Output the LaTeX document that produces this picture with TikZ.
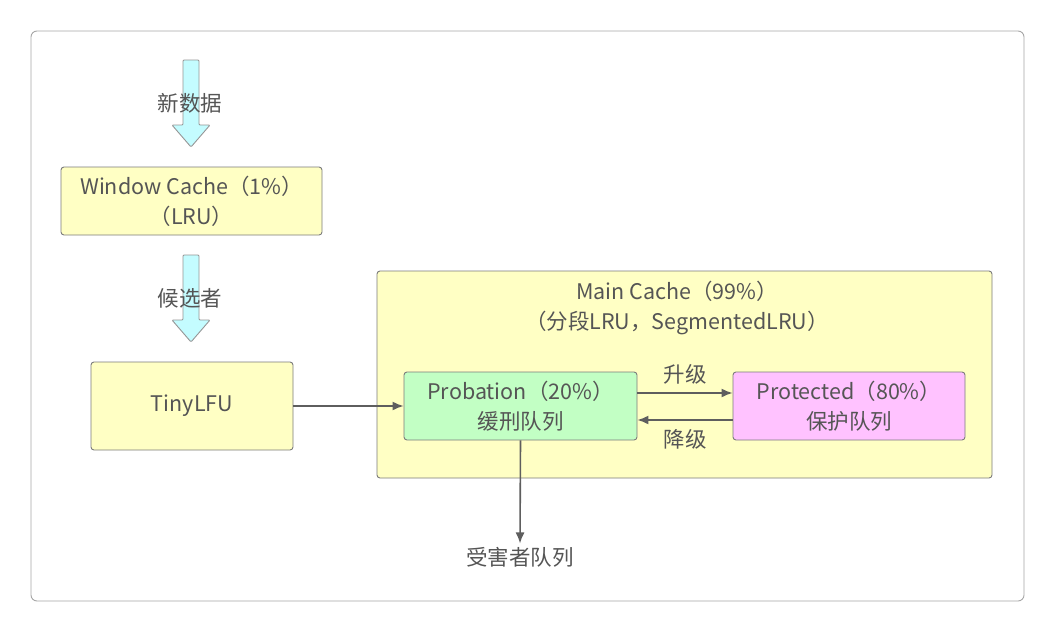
\documentclass[tikz,border=0pt]{standalone}
\usepackage{fontspec}
\setmainfont{Noto Sans CJK SC}
\usetikzlibrary{arrows.meta}
\definecolor{txtgray}{HTML}{555555}
\definecolor{linegray}{HTML}{5E5E5E}
\definecolor{boxgray}{HTML}{7C7C7C}
\definecolor{cacheyellow}{HTML}{FFFFC4}
\definecolor{probgreen}{HTML}{C2FFC4}
\definecolor{protpink}{HTML}{FFC2FF}
\definecolor{flowcyan}{HTML}{C4FCFF}
\begin{document}
\begin{tikzpicture}[x=1pt, y=-1pt, >={Latex[length=11pt,width=9pt]},
		every node/.style={text=txtgray, font=\fontsize{21.5}{30}\selectfont},
		cachebox/.style={draw=boxgray, line width=0.9pt, rounded corners=3pt, align=center, inner sep=0pt}]
	\useasboundingbox (0,0) rectangle (1055,632);
	\draw[draw=black!35, line width=0.9pt, fill=white, rounded corners=6pt] (31,31) rectangle (1024,601);

	% block arrows with labels on top
	\foreach \t/\txt/\nm in {60/新数据/newdata, 255/候选者/cand}
		{
			\draw[draw=boxgray!80, line width=0.9pt, fill=flowcyan, rounded corners=1pt]
				(183,\t) -- (199,\t) -- (199,\t+65) -- (210,\t+65) -- (191,\t+87)
				-- (172,\t+65) -- (183,\t+65) -- cycle;
			\node (\nm) at (190,\t+43) {\txt};
		}

	\node[cachebox, fill=cacheyellow, minimum width=261pt, minimum height=68pt] (window) at (191.5,201)
		{Window Cache（1\%）\\（LRU）};
	\node[cachebox, fill=cacheyellow, minimum width=202pt, minimum height=88pt] (tiny) at (192,406) {TinyLFU};

	\node[cachebox, fill=cacheyellow, minimum width=615pt, minimum height=207pt] (main) at (684.5,374.5) {};
	\node[align=center] (maintxt) at (677,308) {Main Cache（99\%）\\（分段LRU，SegmentedLRU）};

	\node[cachebox, fill=probgreen, minimum width=233pt, minimum height=68pt] (prob) at (520.5,406)
		{Probation（20\%）\\缓刑队列};
	\node[cachebox, fill=protpink, minimum width=232pt, minimum height=68pt] (prot) at (849,406)
		{Protected（80\%）\\保护队列};

	\node (victim) at (520,557) {受害者队列};

	\draw[->, linegray, line width=1.6pt] (tiny) -- (prob);
	\draw[->, linegray, line width=1.6pt] ([yshift=13pt]prob.east) -- node[above=5pt] {升级} ([yshift=13pt]prot.west);
	\draw[->, linegray, line width=1.6pt] ([yshift=-14pt]prot.west) -- node[below=5pt] {降级} ([yshift=-14pt]prob.east);
	\draw[->, linegray, line width=1.6pt] (prob.south) -- (victim.north);
\end{tikzpicture}
\end{document}
